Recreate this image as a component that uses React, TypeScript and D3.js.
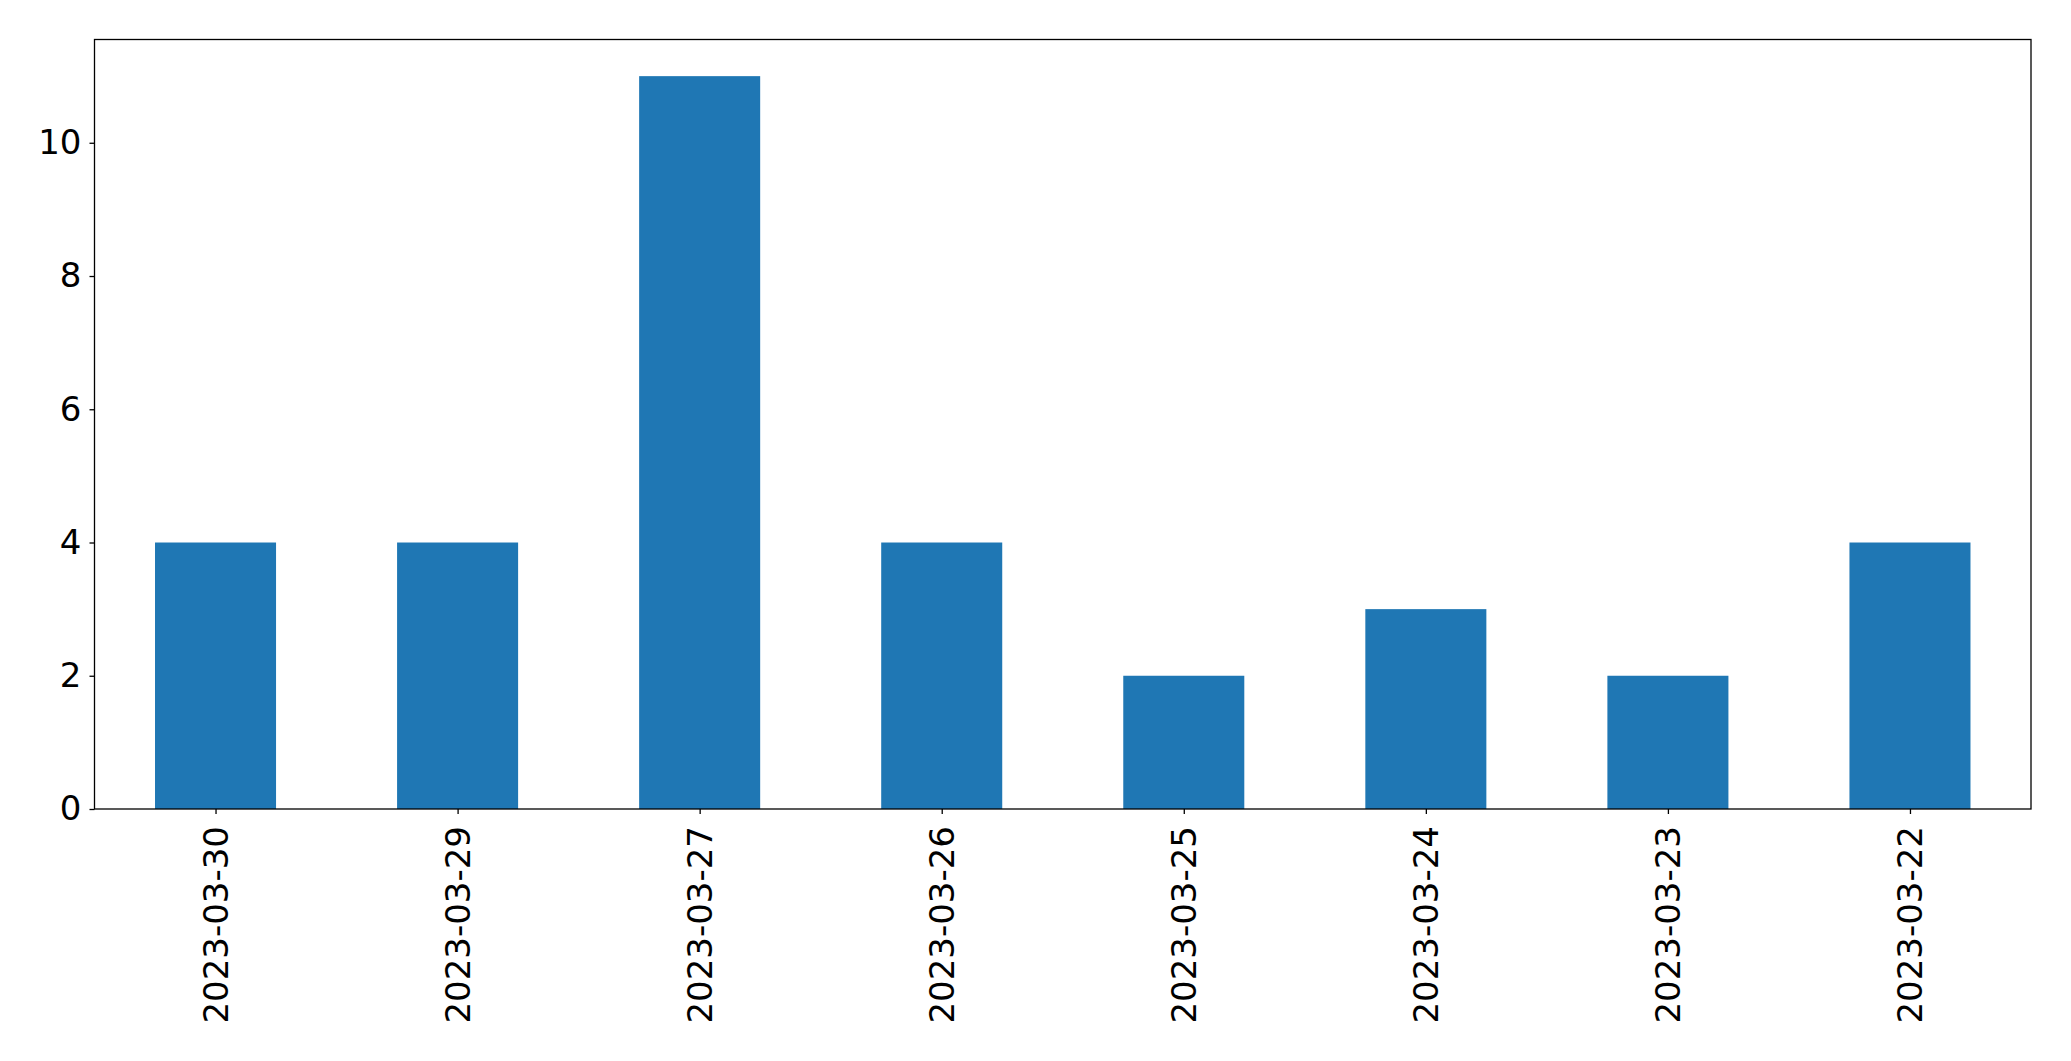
import { useEffect, useRef } from 'react'
import * as d3 from 'd3'

const categories = [
  '2023-03-30',
  '2023-03-29',
  '2023-03-27',
  '2023-03-26',
  '2023-03-25',
  '2023-03-24',
  '2023-03-23',
  '2023-03-22',
]
const counts = [4, 4, 11, 4, 2, 3, 2, 4]
const yTicks = [0, 2, 4, 6, 8, 10]

export default function App() {
  const ref = useRef<SVGSVGElement>(null)

  useEffect(() => {
    if (!ref.current) return
    const svg = d3.select(ref.current)
    svg.selectAll('*').remove()

    const W = 2071
    const H = 1061
    const margin = { top: 39.5, right: 40, bottom: 252, left: 94.5 }
    const width = W - margin.left - margin.right
    const height = H - margin.top - margin.bottom

    const g = svg.append('g').attr('transform', `translate(${margin.left},${margin.top})`)

    // x as positions like matplotlib: -0.5 .. n-0.5
    const x = d3.scaleLinear().domain([-0.5, categories.length - 0.5]).range([0, width])
    const yMax = (d3.max(counts) || 0) * 1.05
    const y = d3.scaleLinear().domain([0, yMax]).range([height, 0])

    const barW = x(0.25) - x(-0.25)

    g.selectAll('.bar')
      .data(counts)
      .enter()
      .append('rect')
      .attr('class', 'bar')
      .attr('x', (_d, i) => x(i) - barW / 2)
      .attr('width', barW)
      .attr('y', (d) => y(d))
      .attr('height', (d) => height - y(d))
      .attr('fill', '#1f77b4')

    const font = 'DejaVu Sans, sans-serif'

    // x axis
    const xAxis = g
      .append('g')
      .attr('transform', `translate(0,${height})`)
      .call(
        d3
          .axisBottom(x)
          .tickValues(d3.range(categories.length))
          .tickFormat((_d, i) => categories[i])
          .tickSize(5)
          .tickPadding(12)
      )
    xAxis.select('.domain').remove()
    xAxis.selectAll('line').attr('stroke', '#000').attr('stroke-width', 1.3)
    xAxis
      .selectAll('text')
      .attr('transform', 'rotate(-90)')
      .attr('x', -17)
      .attr('y', 0)
      .attr('dy', '0.35em')
      .style('text-anchor', 'end')
      .style('font-family', font)
      .style('font-size', '34px')
      .attr('fill', '#000')

    // y axis
    const yAxis = g
      .append('g')
      .call(d3.axisLeft(y).tickValues(yTicks).tickSize(5).tickPadding(8))
    yAxis.select('.domain').remove()
    yAxis.selectAll('line').attr('stroke', '#000').attr('stroke-width', 1.3)
    yAxis
      .selectAll('text')
      .style('font-family', font)
      .style('font-size', '34px')
      .attr('fill', '#000')

    // frame
    g.append('rect')
      .attr('x', 0)
      .attr('y', 0)
      .attr('width', width)
      .attr('height', height)
      .attr('fill', 'none')
      .attr('stroke', '#000')
      .attr('stroke-width', 1.3)
  }, [])

  return (
    <svg
      ref={ref}
      width={2071}
      height={1061}
      style={{ position: 'fixed', top: 0, left: 0, background: '#fff' }}
    />
  )
}
